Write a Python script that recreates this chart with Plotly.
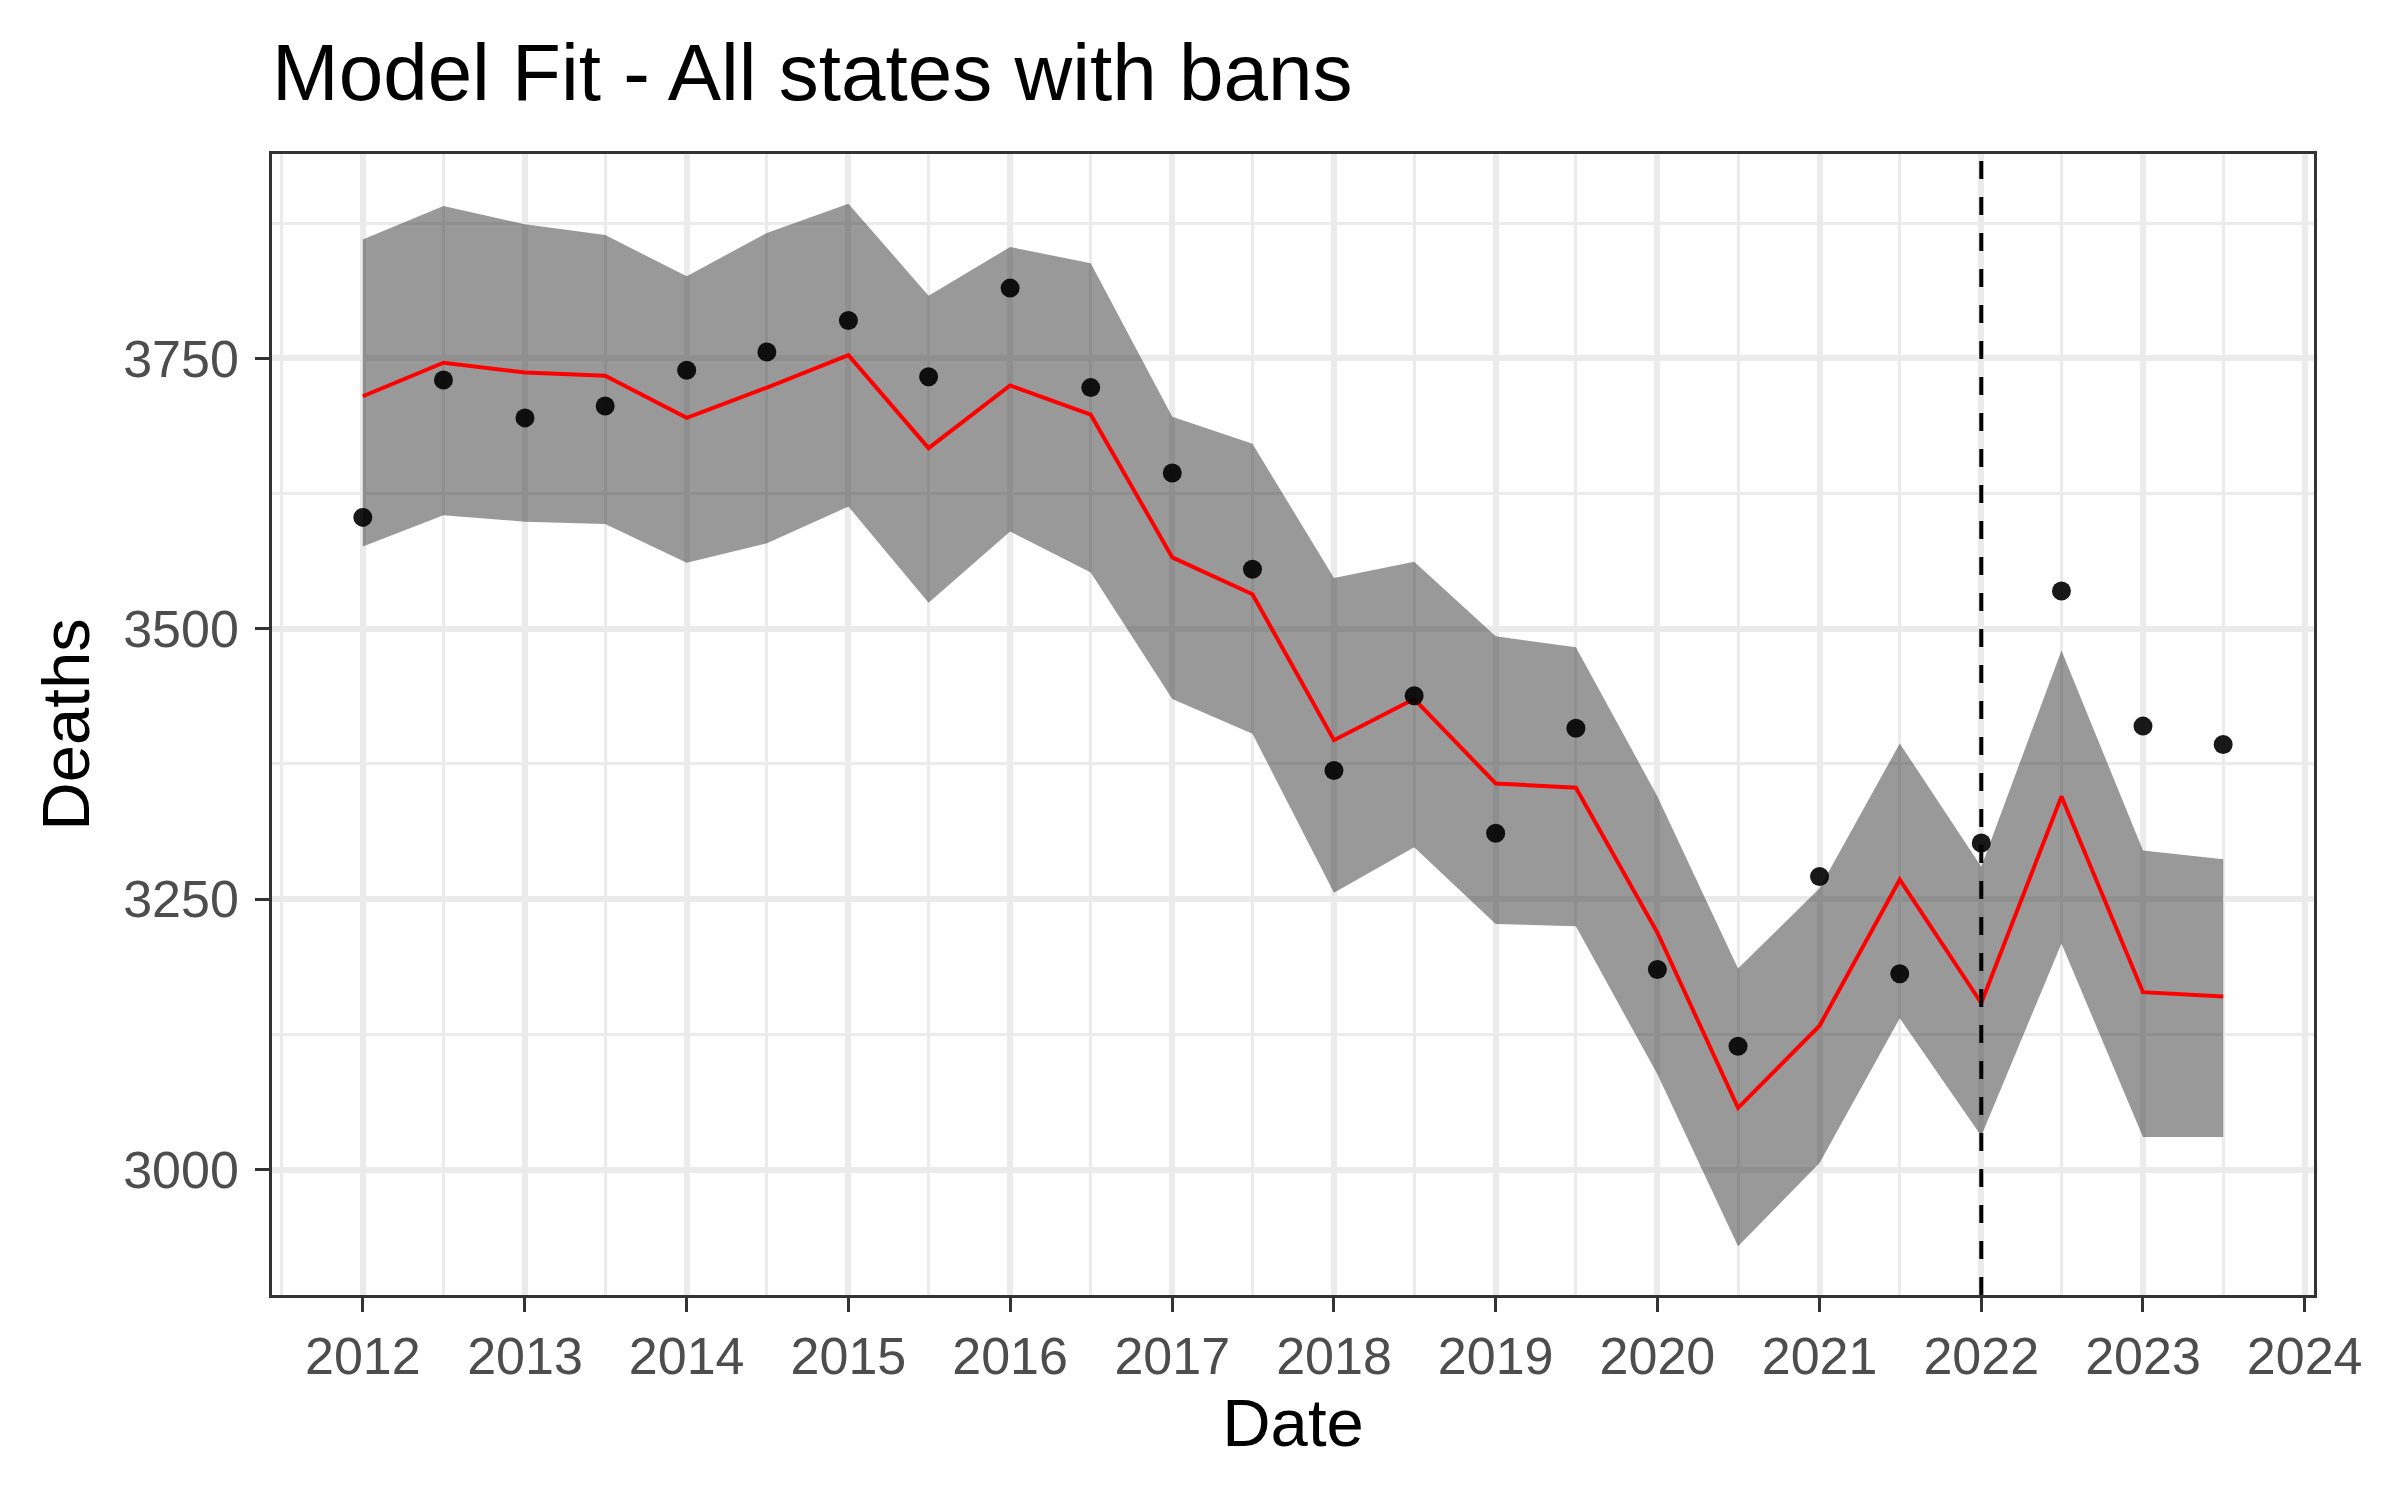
import plotly.graph_objects as go

dates = ["2012-01-01", "2012-07-01", "2013-01-01", "2013-07-01", "2014-01-01", "2014-07-01",
         "2015-01-01", "2015-07-01", "2016-01-01", "2016-07-01", "2017-01-01", "2017-07-01",
         "2018-01-01", "2018-07-01", "2019-01-01", "2019-07-01", "2020-01-01", "2020-07-01",
         "2021-01-01", "2021-07-01", "2022-01-01", "2022-07-01", "2023-01-01", "2023-07-01"]

observed = [3603, 3730, 3695, 3706, 3739, 3756, 3785, 3733, 3815, 3723, 3644, 3555,
            3369, 3438, 3311, 3408, 3185, 3114, 3271, 3181, 3302, 3535, 3410, 3393]

fitted = [3715, 3746, 3737, 3734, 3695, 3723, 3753, 3667, 3725, 3698, 3566, 3532,
          3397, 3435, 3357, 3353, 3219, 3057, 3133, 3268, 3154, 3345, 3164, 3160]

upper = [3860, 3891, 3874, 3864, 3826, 3866, 3893, 3808, 3853, 3838, 3696, 3671,
         3547, 3562, 3493, 3483, 3345, 3186, 3260, 3394, 3280, 3480, 3295, 3287]

lower = [3576, 3605, 3599, 3597, 3561, 3579, 3613, 3524, 3590, 3552, 3435, 3403,
         3256, 3298, 3227, 3225, 3088, 2929, 3006, 3140, 3031, 3209, 3030, 3030]

cutoff_date = "2022-01-01"
title_text = "Model Fit - All states with bans"
x_label = "Date"
y_label = "Deaths"
y_ticks = [3000, 3250, 3500, 3750]

FONT = "Liberation Sans, Arial, Helvetica, sans-serif"

fig = go.Figure()

fig.add_trace(go.Scatter(x=dates, y=upper, mode="lines", line=dict(width=0),
                         showlegend=False, hoverinfo="skip"))
fig.add_trace(go.Scatter(x=dates, y=lower, mode="lines", line=dict(width=0),
                         fill="tonexty", fillcolor="rgba(51,51,51,0.5)",
                         showlegend=False, hoverinfo="skip"))
fig.add_trace(go.Scatter(x=dates, y=fitted, mode="lines",
                         line=dict(color="#FF0000", width=4), showlegend=False))
fig.add_trace(go.Scatter(x=dates, y=observed, mode="markers",
                         marker=dict(color="black", size=19, opacity=0.9), showlegend=False))

fig.add_shape(type="line", xref="x", yref="paper", x0=cutoff_date, x1=cutoff_date,
              y0=0, y1=1, line=dict(color="black", width=4, dash="18px,18px"), layer="above")

fig.update_layout(
    width=2400, height=1500,
    paper_bgcolor="white", plot_bgcolor="white",
    margin=dict(l=264, r=94, t=146, b=213),
    font=dict(family=FONT, color="black"),
    title=dict(text=title_text, font=dict(size=80, color="black", family=FONT),
               xref="paper", x=0, xanchor="left",
               yref="container", y=1 - 92 / 1500, yanchor="bottom"),
    showlegend=False,
)

grid = "#EBEBEB"
fig.update_xaxes(
    type="date",
    range=["2011-06-10", "2024-01-22"],
    dtick="M12", tick0="2012-01-01", tickformat="%Y",
    showgrid=True, gridcolor=grid, gridwidth=5.5,
    minor=dict(dtick="M6", tick0="2012-07-01", showgrid=True, gridcolor=grid, gridwidth=3),
    ticks="outside", ticklen=14, tickwidth=2.8, tickcolor="#333333",
    ticklabelstandoff=0,
    tickfont=dict(size=52, color="#4D4D4D", family=FONT),
    title=dict(text=x_label, font=dict(size=67, color="black", family=FONT), standoff=12),
    showline=True, linecolor="#333333", linewidth=2.5, mirror=True,
    zeroline=False,
)
fig.update_yaxes(
    range=[2884, 3939],
    tickvals=y_ticks,
    showgrid=True, gridcolor=grid, gridwidth=5.5,
    minor=dict(tickvals=[2875, 3125, 3375, 3625, 3875], showgrid=True, gridcolor=grid, gridwidth=3),
    ticks="outside", ticklen=14, tickwidth=2.8, tickcolor="#333333",
    ticklabelstandoff=6,
    tickfont=dict(size=52, color="#4D4D4D", family=FONT),
    title=dict(text=y_label, font=dict(size=67, color="black", family=FONT), standoff=12),
    showline=True, linecolor="#333333", linewidth=2.5, mirror=True,
    zeroline=False,
)

fig.write_html("out.html")
